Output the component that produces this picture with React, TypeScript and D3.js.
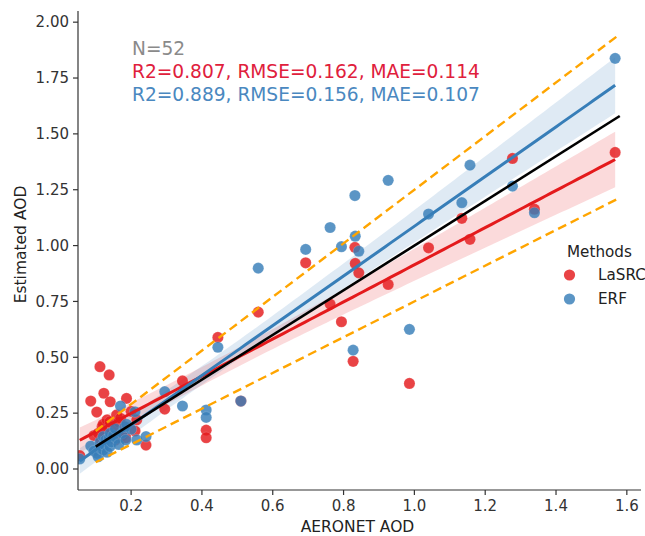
import React from "react";
import * as d3 from "d3";

// Shared AERONET AOD (x) values
const aeronet = [
  0.055, 0.086, 0.095, 0.103, 0.107, 0.112, 0.115, 0.118, 0.121, 0.121,
  0.123, 0.128, 0.132, 0.138, 0.14, 0.141, 0.145, 0.15, 0.155, 0.159,
  0.165, 0.17, 0.175, 0.182, 0.185, 0.187, 0.2, 0.211, 0.216, 0.242,
  0.295, 0.345, 0.412, 0.412, 0.445, 0.51, 0.559, 0.693, 0.762, 0.794,
  0.827, 0.832, 0.833, 0.843, 0.926, 0.986, 1.04, 1.134, 1.157, 1.277,
  1.339, 1.567,
];
// LaSRC estimates
const lasrc = [
  0.06, 0.304, 0.15, 0.255, 0.16, 0.458, 0.13, 0.189, 0.2, 0.17,
  0.339, 0.14, 0.22, 0.421, 0.212, 0.301, 0.16, 0.19, 0.13, 0.242,
  0.21, 0.227, 0.15, 0.19, 0.14, 0.316, 0.258, 0.17, 0.22, 0.107,
  0.268, 0.394, 0.174, 0.14, 0.589, 0.304, 0.702, 0.923, 0.738, 0.659,
  0.482, 0.992, 0.92, 0.878, 0.826, 0.383, 0.99, 1.122, 1.028, 1.39,
  1.163, 1.417,
];
// ERF estimates
const erf = [
  0.045, 0.103, 0.08, 0.07, 0.055, 0.12, 0.09, 0.1, 0.145, 0.085,
  0.11, 0.13, 0.075, 0.14, 0.1, 0.16, 0.12, 0.15, 0.18, 0.137,
  0.11, 0.282, 0.16, 0.189, 0.13, 0.2, 0.178, 0.256, 0.13, 0.145,
  0.346, 0.282, 0.264, 0.231, 0.545, 0.304, 0.899, 0.983, 1.081, 0.995,
  0.532, 1.224, 1.042, 0.975, 1.292, 0.625, 1.141, 1.192, 1.36, 1.266,
  1.147, 1.838,
];

// range of the 1:1 and expected-error (±(0.05+0.2τ)) reference lines
const refRange = [0.1, 1.58];
const xTicks = [0.2, 0.4, 0.6, 0.8, 1.0, 1.2, 1.4, 1.6];
const yTicks = [0, 0.25, 0.5, 0.75, 1.0, 1.25, 1.5, 1.75, 2.0];
const statLines = [
  { text: "N=52", color: "#8a8a8a" },
  { text: "R2=0.807, RMSE=0.162, MAE=0.114", color: "#e0203c" },
  { text: "R2=0.889, RMSE=0.156, MAE=0.107", color: "#4a88c0" },
];
const methods = [
  { name: "LaSRC", color: "#e41a1c", values: lasrc },
  { name: "ERF", color: "#377eb8", values: erf },
];

const FONT = "DejaVu Sans, Verdana, sans-serif";

function fit(xs: number[], ys: number[]) {
  const n = xs.length;
  const mx = d3.mean(xs)!;
  const my = d3.mean(ys)!;
  let sxx = 0, sxy = 0;
  for (let i = 0; i < n; i++) {
    sxx += (xs[i] - mx) ** 2;
    sxy += (xs[i] - mx) * (ys[i] - my);
  }
  const b = sxy / sxx;
  const a = my - b * mx;
  let sse = 0;
  for (let i = 0; i < n; i++) sse += (ys[i] - a - b * xs[i]) ** 2;
  const s = Math.sqrt(sse / (n - 2));
  const t = 2.009;
  return { a, b, s, t, mx, sxx, n };
}

export default function App() {
  const W = 645, H = 536;
  const left = 78, right = 641, top = 11, bottom = 490;
  const x = d3.scaleLinear().domain([0.05, 1.64]).range([left, right]);
  const y = d3.scaleLinear().domain([-0.094, 2.05]).range([bottom, top]);

  const xMin = d3.min(aeronet)!;
  const xMax = d3.max(aeronet)!;
  const grid = d3.range(0, 101).map((i) => xMin + ((xMax - xMin) * i) / 100);

  const line = d3
    .line<[number, number]>()
    .x((d) => x(d[0]))
    .y((d) => y(d[1]));

  const fits = methods.map((m) => {
    const f = fit(aeronet, m.values);
    const pts = grid.map((g) => {
      const yh = f.a + f.b * g;
      const se = f.s * Math.sqrt(1 / f.n + (g - f.mx) ** 2 / f.sxx);
      return { g, yh, lo: yh - f.t * se, hi: yh + f.t * se };
    });
    return { ...m, pts };
  });

  const area = d3
    .area<{ g: number; lo: number; hi: number }>()
    .x((d) => x(d.g))
    .y0((d) => y(d.lo))
    .y1((d) => y(d.hi));

  const oneToOne: [number, number][] = refRange.map((v) => [v, v]);
  const upperEE: [number, number][] = refRange.map((v) => [v, v + 0.05 + 0.2 * v]);
  const lowerEE: [number, number][] = refRange.map((v) => [v, v - 0.05 - 0.2 * v]);

  return (
    <svg width={W} height={H} style={{ position: "absolute", left: 0, top: 0, background: "#fff" }}>
      <defs>
        <clipPath id="plotclip">
          <rect x={left} y={top} width={right - left} height={bottom - top} />
        </clipPath>
      </defs>
      <g clipPath="url(#plotclip)">
        {fits.map((f) => (
          <path key={"band" + f.name} d={area(f.pts) || ""} fill={f.color} fillOpacity={0.16} stroke="none" />
        ))}
        {methods.map((m) =>
          m.values.map((v, i) => (
            <circle
              key={m.name + i}
              cx={x(aeronet[i])}
              cy={y(v)}
              r={5.6}
              fill={m.color}
              fillOpacity={0.82}
              stroke="#fff"
              strokeOpacity={0.4}
              strokeWidth={0.4}
            />
          ))
        )}
        {fits.map((f) => (
          <path
            key={"line" + f.name}
            d={line(f.pts.map((p) => [p.g, p.yh] as [number, number])) || ""}
            fill="none"
            stroke={f.color}
            strokeWidth={3}
          />
        ))}
        <path d={line(oneToOne) || ""} stroke="#000" strokeWidth={2.6} fill="none" />
        <path d={line(upperEE) || ""} stroke="#ffa500" strokeWidth={2.4} strokeDasharray="9,5" fill="none" />
        <path d={line(lowerEE) || ""} stroke="#ffa500" strokeWidth={2.4} strokeDasharray="9,5" fill="none" />
      </g>

      {/* axes */}
      <line x1={left} x2={left} y1={top} y2={bottom} stroke="#333" strokeWidth={1.2} />
      <line x1={left} x2={right} y1={bottom} y2={bottom} stroke="#333" strokeWidth={1.2} />
      {yTicks.map((t) => (
        <g key={"yt" + t}>
          <line x1={left - 5} x2={left} y1={y(t)} y2={y(t)} stroke="#333" strokeWidth={1.2} />
          <text x={left - 9} y={y(t)} dy="0.35em" textAnchor="end" fontFamily={FONT} fontSize={15} fill="#333">
            {t.toFixed(2)}
          </text>
        </g>
      ))}
      {xTicks.map((t) => (
        <g key={"xt" + t}>
          <line x1={x(t)} x2={x(t)} y1={bottom} y2={bottom + 5} stroke="#333" strokeWidth={1.2} />
          <text x={x(t)} y={bottom + 21} textAnchor="middle" fontFamily={FONT} fontSize={15} fill="#333">
            {t.toFixed(1)}
          </text>
        </g>
      ))}
      <text x={(left + right) / 2 - 2} y={532} textAnchor="middle" fontFamily={FONT} fontSize={15.5} fill="#222">
        AERONET AOD
      </text>
      <text
        transform={`translate(26, ${(top + bottom) / 2 - 6}) rotate(-90)`}
        textAnchor="middle"
        fontFamily={FONT}
        fontSize={15.5}
        fill="#222"
      >
        Estimated AOD
      </text>

      {/* stats */}
      {statLines.map((s, i) => (
        <text key={s.text} x={132} y={55 + i * 23} fontFamily={FONT} fontSize={18.6} fill={s.color}>
          {s.text}
        </text>
      ))}

      {/* legend */}
      <text x={567} y={257} fontFamily={FONT} fontSize={15.2} fill="#222">
        Methods
      </text>
      {methods.map((m, i) => (
        <g key={"lg" + m.name}>
          <circle cx={569.5} cy={275 + i * 24} r={5.6} fill={m.color} fillOpacity={0.82} />
          <text x={598} y={275 + i * 24} dy="0.35em" fontFamily={FONT} fontSize={15.2} fill="#222">
            {m.name}
          </text>
        </g>
      ))}
    </svg>
  );
}
